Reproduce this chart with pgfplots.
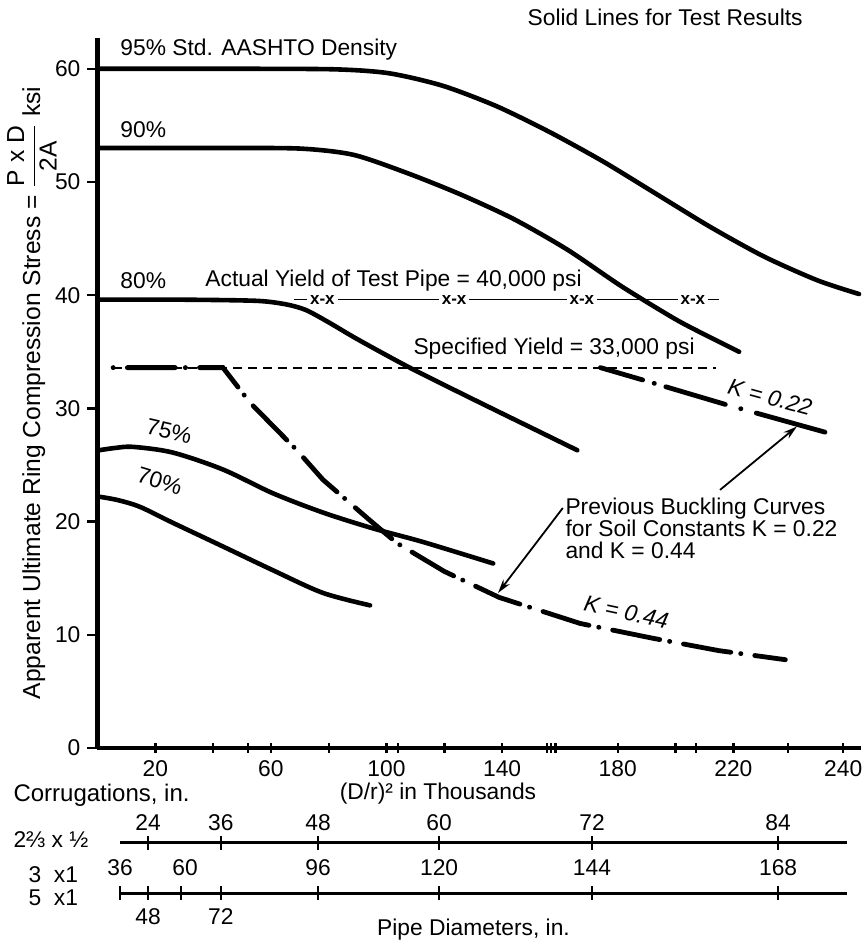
\documentclass[border=0pt]{standalone}
\usepackage{pgfplots}
\pgfplotsset{compat=1.18}
\usepackage{amsmath}
\usepackage{fontspec}
\setmainfont{Liberation Sans}
\usetikzlibrary{arrows.meta}

\begin{document}
\begin{tikzpicture}[font=\fontsize{11.4}{12}\selectfont,
  xmark/.style={fill=white, inner sep=1.5pt, font=\fontsize{8.5}{9}\selectfont\bfseries}]
\path[use as bounding box] (-48.75pt,-98.5pt) rectangle (382.75pt,374pt);
\begin{axis}[
  at={(0,0)}, anchor=south west,
  scale only axis, width=381.5pt, height=354.9pt,
  xmin=0, xmax=264, ymin=0, ymax=62.7,
  axis lines=left,
  axis line style={line width=2.2pt,-},
  clip=false,
  tick align=outside,
  major tick length=5pt,
  tick style={line width=1.2pt, black},
  x tick style={yshift=2.5pt},
  xtick={20,40,52,60,80,100,104,120,140,155.5,157,158.5,180,200,207,220,239,258},
  xticklabels={20,,,60,,100,,,140,,,,180,,,220,,240},
  ytick={0,10,20,30,40,50,60},
  /pgf/number format/assume math mode=true,
  ticklabel style={font=\fontsize{11.4}{12}\selectfont},
  xticklabel style={yshift=2pt},
]
% specified yield, dashed
\addplot[line width=1.1pt, dash pattern=on 4.5pt off 3pt] coordinates {(5.4,33.6) (214,33.6)};
% actual yield of test pipe
\addplot[line width=0.8pt] coordinates {(68,39.6) (215,39.6)};
\node[xmark] at (axis cs:77.8,39.6) {x-x};
\node[xmark] at (axis cs:123.4,39.6) {x-x};
\node[xmark] at (axis cs:167.6,39.6) {x-x};
\node[xmark] at (axis cs:206,39.6) {x-x};

% test results
\addplot[line width=2.3pt, smooth, tension=0.45, line cap=round] coordinates
  {(0,60) (45,60) (82,59.95) (100.9,59.6) (119.4,58.5) (138,56.7) (156.5,54.4) (175,51.8) (193.6,48.9) (212.2,46.0) (230.7,43.4) (249.2,41.3) (263.5,40.1)};
\addplot[line width=2.3pt, smooth, tension=0.45, line cap=round] coordinates
  {(0,53) (40,53) (70,52.95) (88.5,52.4) (107,50.8) (125.6,48.9) (144.2,46.7) (162.7,44.0) (181.2,40.8) (199.8,37.9) (211,36.4) (222,35.0)};
\addplot[line width=2.3pt, smooth, tension=0.45, line cap=round] coordinates
  {(0,39.6) (30,39.6) (55,39.5) (65,39.2) (72,38.7) (80,37.6) (90,36.1) (108,33.6) (130,30.8) (150,28.3) (166,26.3)};
\addplot[line width=2.3pt, smooth, tension=0.5, line cap=round] coordinates
  {(0.5,26.3) (6,26.5) (12.3,26.6) (26,26.1) (43.4,24.6) (60.7,22.5) (78,20.8) (95.3,19.4) (112.6,18.2) (136.9,16.3)};
\addplot[line width=2.3pt, smooth, tension=0.5, line cap=round] coordinates
  {(0.5,22.2) (7,21.9) (14.7,21.3) (26,19.9) (43.4,17.8) (60.7,15.7) (78,13.7) (94.3,12.6)};

% previous buckling curves
\addplot[line width=2.4pt, line cap=round, dash pattern=on 0.1pt off 7pt on 24pt off 5pt] coordinates
  {(5.4,33.6) (43.4,33.6) (52.8,30.5) (69,26.3) (78,23.7) (94.3,20.1) (103.6,18.1) (120,15.6) (139,13.3) (167,11) (192,9.7) (215,8.6) (238,7.8)};
\addplot[line width=2.4pt, line cap=round, dash pattern=on 22pt off 6pt on 0.1pt off 6pt on 31pt off 8pt on 0.1pt off 8pt on 40pt off 5pt] coordinates
  {(174,33.6) (188.8,32.5) (217.9,30.3) (251.7,27.9)};

% corrugation scales
\addplot[line width=1.5pt] coordinates {(7.8,-8.39) (259.3,-8.39)};
\addplot[only marks, mark=|, mark size=3.5pt, mark options={line width=1.3pt}] coordinates
  {(17.5,-8.39) (42.7,-8.39) (76.3,-8.39) (118.2,-8.39) (171.1,-8.39) (235.5,-8.39)};
\addplot[line width=1.5pt] coordinates {(7.8,-12.81) (259.3,-12.81)};
\addplot[only marks, mark=|, mark size=3.5pt, mark options={line width=1.3pt}] coordinates
  {(7.8,-12.81) (17.5,-12.81) (28.9,-12.81) (42.7,-12.81) (76.3,-12.81) (118.2,-12.81) (171.1,-12.81) (235.5,-12.81)};

\node at (axis cs:17.5,-6.6) {24};
\node at (axis cs:42.7,-6.6) {36};
\node at (axis cs:76.3,-6.6) {48};
\node at (axis cs:118.2,-6.6) {60};
\node at (axis cs:171.1,-6.6) {72};
\node at (axis cs:235.5,-6.6) {84};
\node at (axis cs:7.8,-10.6) {36};
\node at (axis cs:30.3,-10.6) {60};
\node at (axis cs:76.3,-10.6) {96};
\node at (axis cs:118.2,-10.6) {120};
\node at (axis cs:171.1,-10.6) {144};
\node at (axis cs:235.5,-10.6) {168};
\node at (axis cs:17.5,-14.93) {48};
\node at (axis cs:42.7,-14.93) {72};
\node[anchor=west, inner sep=0] at (axis cs:-29.2,-8.1) {2⅔ x ½};
\node[anchor=west, inner sep=0] at (axis cs:-24,-11.2) {3\ \ x1};
\node[anchor=west, inner sep=0] at (axis cs:-24,-13.2) {5\ \ x1};
\node[anchor=west, inner sep=0, font=\fontsize{12}{13}\selectfont] at (axis cs:-29.2,-4.15) {Corrugations, in.};
\node at (axis cs:117.8,-4.0) {(D/r)² in Thousands};
\node at (axis cs:130.1,-16.08) {Pipe Diameters, in.};

% labels
\node[rotate=90, font=\fontsize{12.3}{13}\selectfont] at (axis cs:-22.7,31.36)
  {Apparent Ultimate Ring Compression Stress = $\dfrac{\text{P x D}}{\text{2A}}$ ksi};
\node at (axis cs:196.4,64.5) {Solid Lines for Test Results};
\node[anchor=west, inner sep=0] at (axis cs:7.8,61.66) {95\% Std. AASHTO Density};
\node[anchor=west, inner sep=0] at (axis cs:7.8,54.6) {90\%};
\node[anchor=west, inner sep=0] at (axis cs:7.8,41.3) {80\%};
\node[anchor=west, inner sep=0] at (axis cs:37.2,41.3) {Actual Yield of Test Pipe = 40,000 psi};
\node[anchor=west, inner sep=0] at (axis cs:109.2,35.3) {Specified Yield = 33,000 psi};
\node[rotate=-13, inner sep=1pt] at (axis cs:24.8,28.0) {75\%};
\node[rotate=-17, inner sep=1pt] at (axis cs:21.5,23.6) {70\%};
\node[rotate=-15, font=\fontsize{11.4}{12}\selectfont\itshape] at (axis cs:232.7,31.0) {K = 0.22};
\node[rotate=-12, font=\fontsize{11.4}{12}\selectfont\itshape] at (axis cs:183,12) {K = 0.44};
\node[anchor=west, inner sep=0, align=left, font=\fontsize{11.4}{10.8}\selectfont] at (axis cs:161.8,19.4)
  {Previous Buckling Curves\\for Soil Constants K = 0.22\\and K = 0.44};
\draw[-{Stealth[length=7pt,width=4pt]}, line width=0.9pt] (axis cs:215.4,22.8) -- (axis cs:242,28.4);
\draw[-{Stealth[length=7pt,width=4pt]}, line width=0.9pt] (axis cs:161,21.2) -- (axis cs:138.6,13.7);
\end{axis}
\end{tikzpicture}
\end{document}
